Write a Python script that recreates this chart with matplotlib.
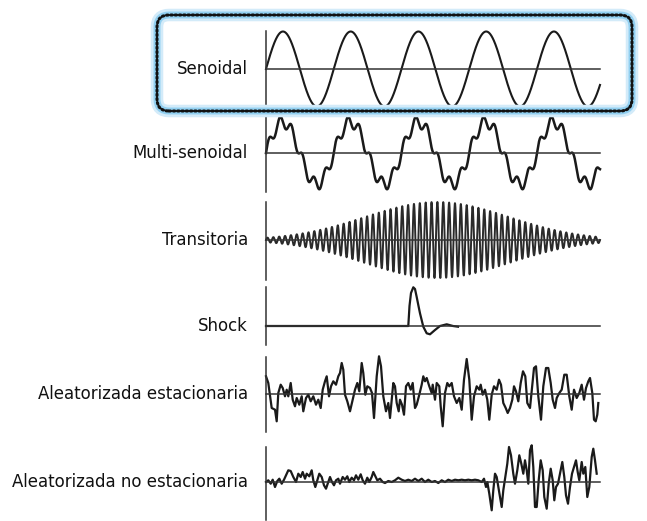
import numpy as np
import matplotlib
matplotlib.use("Agg")
import matplotlib.pyplot as plt
from matplotlib import font_manager as fm
from matplotlib.patches import FancyBboxPatch

# ---------------- data ----------------
labels = ["Senoidal", "Multi-senoidal", "Transitoria", "Shock",
          "Aleatorizada estacionaria", "Aleatorizada no estacionaria"]

T_END = 334  # time span of every trace (arbitrary units)

sine_cycles = 4.93
sine_amp = 37.5

multi_cycles = 4.93
multi_amp = 31.0
multi_harm = 6
multi_ratio = 0.2

trans_cycles = 57
trans_amp = 38.0
trans_center = 171
trans_width = 72

shock_t = [0, 142.3, 143.5, 145, 147.3, 149, 150.7, 152.5, 154, 157.3, 160.7,
           164, 169, 174, 180.7, 187, 192]
shock_v = [0, 0, 20, 33, 38.7, 37, 29, 20, 12.7, -0.7, -7.3,
           -8.3, -4, 0, 1.7, 0, -0.7]

stat_t = [0, 2.3, 5.7, 9, 10.7, 12.3, 14.7, 16.7, 19, 20.7, 22.3, 24.7, 26.7, 29,
          30.7, 33.3, 35.7, 37.3, 40, 42.3, 44.7, 47.3, 50, 52.3, 54.7, 56.7, 59,
          60.7, 63, 65, 67.3, 70, 72.3, 74, 75.7, 77.3, 79, 81.3, 84, 86.7, 89,
          91.3, 93.3, 95.7, 97.3, 99.3, 101.3, 104, 106, 108, 110.7, 113, 115,
          117.3, 120, 122.3, 124, 125.7, 127.3, 129, 130.7, 132.7, 134, 136, 138,
          140, 142.3, 144.7, 146.7, 149, 150.7, 153.3, 155.7, 157.3, 159, 160.7,
          163.3, 165.7, 166.7, 169, 170.7, 173.3, 174.7, 176.7, 179, 181.3, 183.3,
          185.7, 188, 190.7, 193.3, 195.7, 198, 200.7, 203.3, 205.7, 208, 210.7,
          213.3, 214.7, 216.7, 219, 221.3, 223.3, 225.7, 228, 230.7, 233, 235,
          237.3, 239.7, 241.7, 244, 246.3, 248, 250, 252.3, 254.7, 257, 259.3,
          261.3, 264, 265.7, 268, 270, 272.3, 275, 277.3, 280, 282.3, 284.7,
          286.7, 289, 290.7, 293.3, 295.7, 298.3, 300.7, 303.3, 305.7, 308,
          310.7, 313.3, 315.7, 318, 320, 322.3, 324, 326.3, 328, 329.7, 331.3,
          332.3]
stat_v = [17.7, 11, -14, -15.7, -27.3, 1, 9.3, 6, -2.3, 4.3, -2.3, 11, -5.7, -12.3,
          -4, -10.7, -2.3, -17.3, -4, -0.7, -7.3, -2.3, -10.7, -5.7, -14, 4.3, 12.7,
          17.7, -2.3, 7.7, 12.7, 9.3, 17.7, 21, 31, 24.3, -0.7, -7.3, -17.3, -5.7,
          4.3, 11, 2.7, 31, 21, -0.7, 7.7, 6, 1, -24, 17.7, 37.7, 27.7, -2.3,
          -17.3, -9, -24, -5.7, 11, 7.7, -9, -17.3, -5.7, -10.7, -20.7, 7.7, 11,
          4.3, 11, -14, -10.7, -0.7, 9.3, 17.7, 12.7, 16, 7.7, 1, 9.3, -5.7, 11,
          7.7, -12.3, -32.3, 1, 11, 7.7, 11, -2.3, -9, -4, -15.7, 14.3, 35, 14.3,
          -25.7, -2.3, 7.7, 4.3, 9.3, -0.7, 4.3, -5.7, -25.7, -0.7, 7.7, 4.3, 14.3,
          9.3, -9, -14, -19, -14, -5.7, 7.7, 2.7, -7.3, 11, 22.7, 17.7, -9, -14,
          2.7, 26, 27.7, -2.3, -25.7, 7.7, 26, 26, 11, -5.7, -14, -4, 1, 4.3,
          19.3, 19.3, -2.3, -15.7, 4.3, -4, 1, 9.3, -5.7, 6, 12.7, 16, 1, -25.7,
          -27.3, -20.7, -9]

nstat_t = [0, 2.3, 4.7, 6.7, 9, 11.3, 13.3, 15.7, 18, 20, 22.3, 24.7, 27.3, 30,
           32.3, 34.7, 36.7, 39, 40.7, 43.3, 45.7, 47.3, 49.3, 51.3, 53.3, 55.7,
           58, 60, 62.3, 64, 66, 68, 70, 72.3, 74, 76.7, 79, 81.3, 83.3, 85.7, 88,
           90, 92.3, 94.7, 96.7, 99, 101.3, 103.3, 105.7, 107.3, 109.7, 111.3, 114,
           116.7, 119, 122.3, 125.7, 129, 132.3, 135.7, 139, 142.3, 145.7, 149,
           152.3, 155.7, 159, 162.3, 165.7, 169, 172.3, 175.7, 179, 182.3, 185.7,
           189, 192.3, 195.7, 199, 202.3, 205.7, 209, 212.3, 215.7, 218, 220,
           221.3, 223.3, 225.7, 227.3, 229, 230.7, 232.3, 234, 235.7, 237.3, 239.3,
           241.3, 243, 245, 247.3, 249, 251.3, 253.3, 255.3, 257.3, 259, 260.7,
           262.3, 264, 265.7, 267.3, 269, 270.7, 272.7, 274.7, 276.7, 278.3, 280.7,
           282.7, 284.7, 286.7, 288.3, 290, 292, 294, 296.3, 298.3, 300, 302, 304,
           306, 308, 310, 311.7, 313.3, 315.7, 317.3, 319.3, 321.3, 323.3, 325.7,
           327.3, 329, 330.7]
nstat_v = [0, 1.7, -1.7, 2.3, -5, 1, 3.3, -1.7, 2.3, 6.7, 11.7, 11, 5, 0, 8.3, 5,
           10, 3.3, 8.3, 5.7, 11.7, 1.7, -5, 1.7, 8.3, 5, -3.3, -6.7, 0, 5, 0,
           -3.3, 1.7, 3.3, -1.7, 5, 2.3, 5.7, 0, 4.3, 1.7, 6.7, 2.3, 7.7, 1.7, -1.7,
           4.3, 0, 5, 10, 5, 1.7, 3.3, 0, -1, 1, 0, 1.7, 4.3, 2.3, 1, 2.3, 1, 3.3,
           1, 3.3, 0, 2.3, 0, 1, -1, 1.7, 0, 2.3, 1, 2.3, 1.7, 2.3, 1.7, 2.3, 1.7,
           2.3, 1.7, 0, 3.3, -5, 0, -11.7, -28.3, -8.3, 8.3, 5, -5, -15, -25, -8.3,
           5, 18.3, 35, 26.7, 8.3, -1.7, 11.7, 26.7, 18.3, 8.3, 21.7, 11.7, -1.7,
           31.7, 36.7, 15, -25, -25, 1.7, 21.7, 11.7, -15, -26.7, -1.7, 13.3, 1.7,
           -18.3, -5, -1.7, 8.3, 20, 5, -13.3, -21.7, -5, 8.3, 15, 21.7, 10, 1.7,
           20, 8.3, 15, -15, -5, 25, 33.3, 21.7, 8.3]

# ---------------- font: pick a narrow face if one is installed ----------------
names = {f.name for f in fm.fontManager.ttflist}
cond = [f for f in fm.fontManager.ttflist
        if f.name in ("Liberation Sans Narrow", "DejaVu Sans")
        and str(f.stretch) in ("condensed", "semi-condensed", "75", "87")]
if "Liberation Sans Narrow" in names:
    label_font = dict(family=["Liberation Sans Narrow", "DejaVu Sans"], fontsize=14)
elif cond:
    label_font = dict(family=["DejaVu Sans"], fontstretch="condensed", fontsize=13.2)
else:
    label_font = dict(family=["Roboto", "DejaVu Sans"], fontsize=12.5)

# ---------------- layout (pixels of the 647x521 picture) ----------------
W, H = 647, 521
fig = plt.figure(figsize=(W / 100, H / 100), dpi=100)
fig.patch.set_facecolor("white")

X0, X1 = 266, 600
panels = [(31, 69, 107), (113, 153, 192), (202, 240, 280),
          (287, 326, 345), (357, 394, 432), (447, 482, 520)]
LABEL_X = 248

box_kw = dict(boxstyle="round,pad=0,rounding_size=12", transform=None,
              fill=False)
bx0, by0, bx1, by1 = 157, 15, 632, 111
for lw, col in [(9, "#d3ebf9"), (5, "#92d0f1")]:
    p = FancyBboxPatch((bx0, H - by1), bx1 - bx0, by1 - by0,
                       edgecolor=col, lw=lw, **box_kw)
    fig.patches.append(p)
p = FancyBboxPatch((bx0, H - by1), bx1 - bx0, by1 - by0,
                   edgecolor="#111111", lw=2.2, linestyle=(0, (0.5, 0.9)),
                   capstyle="round", **box_kw)
fig.patches.append(p)

t_dense = np.linspace(0, T_END, 4000)
lc = "#1a1a1a"

for i, (top, base, bot) in enumerate(panels):
    ax = fig.add_axes([X0 / W, 1 - bot / H, (X1 - X0) / W, (bot - top) / H])
    ax.set_xlim(0, T_END)
    ax.set_ylim(-(bot - base), base - top)
    ax.patch.set_alpha(0)
    for s in ["top", "right"]:
        ax.spines[s].set_visible(False)
    ax.spines["bottom"].set_position(("data", 0))
    ax.spines["left"].set_position(("data", 0))
    for s in ["bottom", "left"]:
        ax.spines[s].set_linewidth(1.1)
        ax.spines[s].set_color("#333333")
    ax.set_xticks([])
    ax.set_yticks([])

    if i == 0:
        y = sine_amp * np.sin(2 * np.pi * sine_cycles * t_dense / T_END)
        ax.plot(t_dense, y, color=lc, lw=1.5, clip_on=False)
    elif i == 1:
        ph = 2 * np.pi * multi_cycles * t_dense / T_END
        y = multi_amp * (np.sin(ph) + multi_ratio * np.sin(multi_harm * ph))
        ax.plot(t_dense, y, color=lc, lw=1.8, clip_on=False)
    elif i == 2:
        env = trans_amp * np.exp(-0.5 * ((t_dense - trans_center) / trans_width) ** 2)
        y = env * np.sin(2 * np.pi * trans_cycles * t_dense / T_END)
        ax.plot(t_dense, y, color="#2a2a2a", lw=1.4, clip_on=False)
    elif i == 3:
        ax.plot(shock_t, shock_v, color=lc, lw=1.6, clip_on=False,
                solid_joinstyle="round")
    elif i == 4:
        ax.plot(stat_t, stat_v, color=lc, lw=1.6, clip_on=False,
                solid_joinstyle="round")
    else:
        ax.plot(nstat_t, nstat_v, color=lc, lw=1.6, clip_on=False,
                solid_joinstyle="round")

    fig.text(LABEL_X / W, 1 - base / H, labels[i], ha="right", va="center",
             color="#111111", **label_font)

fig.savefig("out.png", dpi=100)
